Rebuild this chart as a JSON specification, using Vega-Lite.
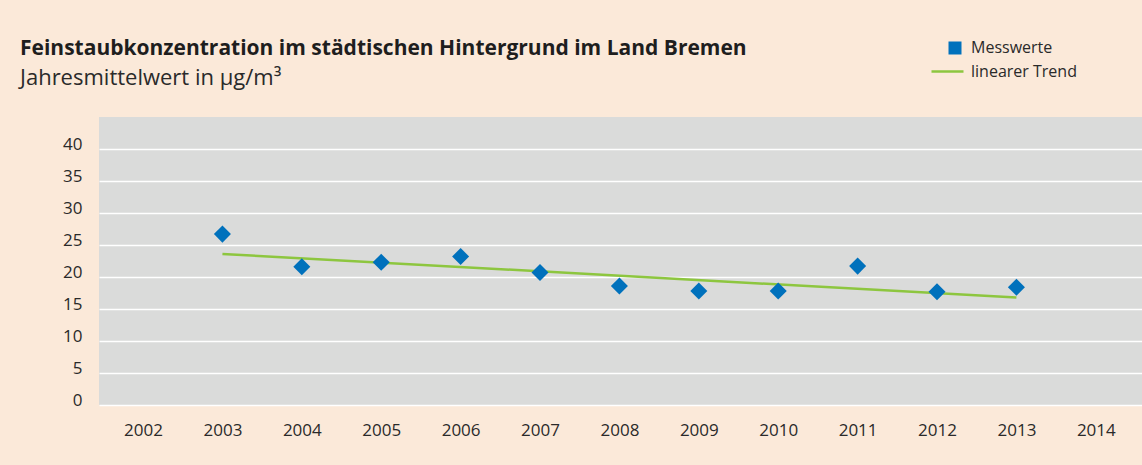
{
  "$schema": "https://vega.github.io/schema/vega-lite/v6.json",
  "width": 1043,
  "height": 288,
  "autosize": {"type": "none"},
  "padding": {"left": 99, "top": 117, "right": 0, "bottom": 60},
  "background": "#FBE9D9",
  "config": {
    "font": "Open Sans",
    "view": {"fill": "#DADBDA", "stroke": null},
    "axis": {"labelFont": "Open Sans", "labelColor": "#2a2a2a", "labelFontSize": 17, "domain": false, "ticks": false, "title": null}
  },
  "title": {
    "text": "Feinstaubkonzentration im städtischen Hintergrund im Land Bremen",
    "subtitle": "Jahresmittelwert in µg/m³",
    "anchor": "start",
    "frame": "group",
    "dx": -79,
    "offset": -49,
    "font": "Open Sans",
    "fontSize": 21,
    "fontWeight": "bold",
    "color": "#1e1e1e",
    "subtitleFont": "Open Sans",
    "subtitleFontSize": 22,
    "subtitleColor": "#2a2a2a",
    "subtitlePadding": 9
  },
  "datasets": {
    "mess": [
      {"Jahr": "2003", "Wert": 26.7, "Reihe": "Messwerte"},
      {"Jahr": "2004", "Wert": 21.6, "Reihe": "Messwerte"},
      {"Jahr": "2005", "Wert": 22.3, "Reihe": "Messwerte"},
      {"Jahr": "2006", "Wert": 23.2, "Reihe": "Messwerte"},
      {"Jahr": "2007", "Wert": 20.7, "Reihe": "Messwerte"},
      {"Jahr": "2008", "Wert": 18.6, "Reihe": "Messwerte"},
      {"Jahr": "2009", "Wert": 17.8, "Reihe": "Messwerte"},
      {"Jahr": "2010", "Wert": 17.8, "Reihe": "Messwerte"},
      {"Jahr": "2011", "Wert": 21.7, "Reihe": "Messwerte"},
      {"Jahr": "2012", "Wert": 17.7, "Reihe": "Messwerte"},
      {"Jahr": "2013", "Wert": 18.4, "Reihe": "Messwerte"}
    ],
    "trend": [
      {"Jahr": "2003", "Wert": 23.6, "Reihe": "linearer Trend"},
      {"Jahr": "2013", "Wert": 16.8, "Reihe": "linearer Trend"}
    ]
  },
  "encoding": {
    "x": {
      "field": "Jahr",
      "type": "ordinal",
      "scale": {"type": "point", "domain": ["2002","2003","2004","2005","2006","2007","2008","2009","2010","2011","2012","2013","2014"], "padding": 0.568, "align": 0.488},
      "axis": {"labelAngle": 0, "labelPadding": 17, "grid": false}
    },
    "y": {
      "field": "Wert",
      "type": "quantitative",
      "scale": {"domain": [0, 45], "nice": false},
      "axis": {"values": [0,5,10,15,20,25,30,35,40], "labelPadding": 17, "labelOffset": -5, "grid": true, "gridColor": "#FFFFFF", "gridWidth": 1.5, "gridOpacity": 1}
    }
  },
  "layer": [
    {
      "data": {"name": "trend"},
      "mark": {"type": "line", "strokeWidth": 2.5},
      "encoding": {
        "stroke": {
          "field": "Reihe",
          "type": "nominal",
          "scale": {"domain": ["linearer Trend"], "range": ["#8DC63F"]},
          "legend": {"title": null, "orient": "none", "legendX": 831, "legendY": -63, "symbolType": "stroke", "symbolSize": 1024, "symbolStrokeWidth": 2.5, "labelFontSize": 16, "labelColor": "#2a2a2a", "labelFont": "Open Sans", "labelOffset": 6}
        }
      }
    },
    {
      "data": {"name": "mess"},
      "mark": {"type": "point", "shape": "diamond", "filled": true, "size": 290, "opacity": 1},
      "encoding": {
        "fill": {
          "field": "Reihe",
          "type": "nominal",
          "scale": {"domain": ["Messwerte"], "range": ["#0071BC"]},
          "legend": {"title": null, "orient": "none", "legendX": 848, "legendY": -77, "symbolType": "square", "symbolSize": 169, "labelFontSize": 16, "labelColor": "#2a2a2a", "labelFont": "Open Sans", "labelOffset": 8}
        }
      }
    }
  ]
}
